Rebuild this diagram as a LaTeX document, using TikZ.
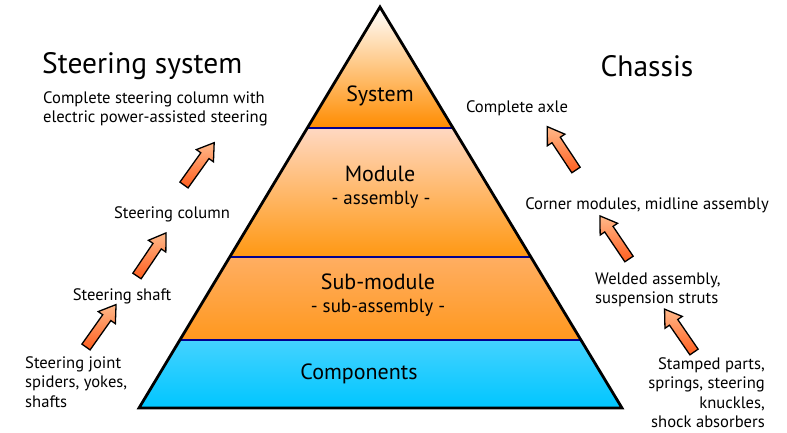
\documentclass[tikz,border=0pt]{standalone}
\usepackage{fontspec}
\setmainfont{PT Sans}
\usetikzlibrary{calc}
\definecolor{navyline}{HTML}{000090}
\definecolor{sysTop}{HTML}{FFFFFF}
\definecolor{sysBot}{HTML}{FF8C00}
\definecolor{modTop}{HTML}{FFD8C2}
\definecolor{modBot}{HTML}{FF9812}
\definecolor{subTop}{HTML}{FFAE62}
\definecolor{subBot}{HTML}{FF981E}
\definecolor{cmpTop}{HTML}{44D2FF}
\definecolor{cmpBot}{HTML}{00C6FF}
\definecolor{arrowlight}{HTML}{FFB98A}
\definecolor{arrowdark}{HTML}{FF5E1E}
\begin{document}
\begin{tikzpicture}[x=1pt,y=-1pt,
  sep/.style={draw=navyline, line width=1.8pt},
  lbl/.style={font=\fontsize{22}{26}\selectfont, inner sep=0pt},
  sublbl/.style={font=\fontsize{19}{22}\selectfont, inner sep=0pt},
  note/.style={font=\fontsize{16.6}{19.5}\selectfont, inner sep=0pt, align=left},
  head/.style={font=\fontsize{29.5}{33}\selectfont, inner sep=0pt},
  uparrow/.style={draw=black, line width=1.3pt, line join=miter,
    top color=arrowlight, bottom color=arrowdark},
  blockarrow/.pic={
    \draw[uparrow] (0,-5) -- (36,-5) -- (36,-10.5) -- (52,0)
      -- (36,10.5) -- (36,5) -- (0,5) -- cycle;
  }]
\useasboundingbox (0,0) rectangle (787,432);

% pyramid corners and layer boundaries
\coordinate (apex) at (380,7);
\coordinate (bl) at (139,408);
\coordinate (br) at (622,408);
\coordinate (l1) at ($(apex)!0.3017!(bl)$);
\coordinate (r1) at ($(apex)!0.3017!(br)$);
\coordinate (l2) at ($(apex)!0.6234!(bl)$);
\coordinate (r2) at ($(apex)!0.6234!(br)$);
\coordinate (l3) at ($(apex)!0.8304!(bl)$);
\coordinate (r3) at ($(apex)!0.8304!(br)$);

% layer fills
\path[top color=sysTop, bottom color=sysBot] (apex) -- (r1) -- (l1) -- cycle;
\path[top color=modTop, bottom color=modBot] (l1) -- (r1) -- (r2) -- (l2) -- cycle;
\path[top color=subTop, bottom color=subBot] (l2) -- (r2) -- (r3) -- (l3) -- cycle;
\path[top color=cmpTop, bottom color=cmpBot] (l3) -- (r3) -- (br) -- (bl) -- cycle;

% layer separators
\draw[sep] (l1) -- (r1);
\draw[sep] (l2) -- (r2);
\draw[sep] (l3) -- (r3);

% outline
\draw[black, line width=2.8pt, line join=miter] (apex) -- (br) -- (bl) -- cycle;

% layer labels
\node[lbl] (system) at (380,96) {System};
\node[lbl] (module) at (380,174) {Module};
\node[sublbl] (assembly) at (381,200) {- assembly -};
\node[lbl] (submodule) at (378,282) {Sub-module};
\node[sublbl] (subassembly) at (378,308) {- sub-assembly -};
\node[lbl] (components) at (359,374) {Components};

% headings
\node[head, anchor=west] (steer) at (42,66) {Steering system};
\node[head] (chassis) at (647,66) {Chassis};

% steering system steps
\node[note, anchor=west] (s4) at (43,109) {Complete steering column with\\electric power-assisted steering};
\node[note] (s3) at (172,214) {Steering column};
\node[note] (s2) at (122,296) {Steering shaft};
\node[note, anchor=north west] (s1) at (25,356) {Steering joint\\spiders, yokes,\\shafts};

% chassis steps
\node[note] (c4) at (517,108) {Complete axle};
\node[note] (c3) at (647,205) {Corner modules, midline assembly};
\node[note, anchor=west] (c2) at (595,290) {Welded assembly,\\suspension struts};
\node[note, anchor=north east, align=right] (c1) at (765,357) {Stamped parts,\\springs, steering\\knuckles,\\shock absorbers};

% step arrows
\pic[rotate=54.7] (a1) at (86,347) {blockarrow};
\pic[rotate=56] (a2) at (137,276) {blockarrow};
\pic[rotate=54.5] (a3) at (184,185) {blockarrow};
\pic[rotate=124.5] (b1) at (694,352) {blockarrow};
\pic[rotate=124] (b2) at (629,259) {blockarrow};
\pic[rotate=123.5] (b3) at (576,170) {blockarrow};
\end{tikzpicture}
\end{document}
